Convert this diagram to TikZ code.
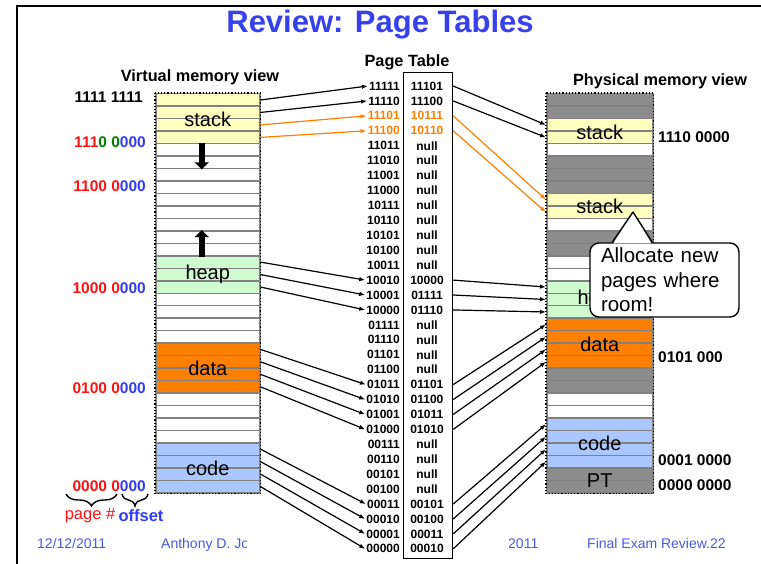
\documentclass[tikz,border=0pt]{standalone}
\usepackage{fontspec}
\setmainfont{Liberation Sans}
\usetikzlibrary{positioning, arrows.meta, decorations.pathreplacing}
\definecolor{ttlblue}{RGB}{55,65,235}
\definecolor{ftblue}{RGB}{70,90,230}
\definecolor{adred}{RGB}{250,20,20}
\definecolor{adgreen}{RGB}{0,130,0}
\definecolor{adblue}{RGB}{50,60,245}
\definecolor{ptorange}{RGB}{255,128,0}
\definecolor{stk}{RGB}{255,255,192}
\definecolor{hp}{RGB}{208,250,208}
\definecolor{dat}{RGB}{255,128,0}
\definecolor{cod}{RGB}{170,200,255}
\definecolor{used}{RGB}{140,140,140}
\definecolor{free}{RGB}{255,255,255}
\tikzset{
  memrow/.style={draw=gray, line width=1.5pt, inner sep=0pt, minimum height=12.47pt,
                 anchor=north west},
  memcol/.style={draw, dotted, line width=1.2pt},
  seg/.style={font=\fontsize{20}{24}\selectfont},
  hdr/.style={font=\fontsize{16.3}{19}\selectfont\bfseries, anchor=base},
  addr/.style={font=\fontsize{15.5}{18}\selectfont\bfseries, inner sep=1pt},
  pte/.style={font=\fontsize{12}{14}\selectfont\bfseries, inner sep=1pt},
  map/.style={-{Latex[length=6pt, width=4.5pt]}, line width=1.2pt},
  growarrow/.style={line width=6pt, -{Triangle[length=7pt, width=14pt]}},
  foot/.style={font=\fontsize{14}{16}\selectfont, text=ftblue, inner sep=0pt, anchor=base west}
}

\begin{document}
\begin{tikzpicture}[x=1pt, y=-1pt]
  \useasboundingbox (0,0) rectangle (761,564);
  \draw[line width=2pt] (17,564) -- (17,6) -- (761,6);

  \node[font=\fontsize{31}{36}\selectfont\bfseries, text=ttlblue, anchor=base] (title)
    at (380,32.5) {Review: Page Tables};
  \node[hdr] (vhdr) at (200,82) {Virtual memory view};
  \node[hdr] (pthdr) at (407,67) {Page Table};
  \node[hdr] (phdr) at (660,86) {Physical memory view};

  % virtual memory, row 0 = page 11111
  \foreach \c [count=\i from 0] in {stk,stk,stk,stk,free,free,free,free,free,free,free,free,
      free,hp,hp,hp,free,free,free,free,dat,dat,dat,dat,free,free,free,free,cod,cod,cod,cod}
    \node[memrow, minimum width=104pt, fill=\c] (v\i) at (155,93+12.47*\i) {};
  \draw[memcol] (v0.north west) rectangle (v31.south east);
  \draw[growarrow] ([xshift=-6pt]v4.north) -- ([xshift=-6pt]v5.south);
  \draw[growarrow] ([xshift=-6pt]v12.south) -- ([xshift=-6pt]v11.north);
  \node[seg] (vstack) at (v1.south) {stack};
  \node[seg] (vheap) at (v14) {heap};
  \node[seg] (vdata) at (v21.south) {data};
  \node[seg] (vcode) at (v29.south) {code};

  % physical memory
  \foreach \c [count=\i from 0] in {used,used,stk,stk,free,used,used,used,stk,stk,free,used,
      used,free,free,hp,hp,hp,dat,dat,dat,dat,used,used,free,free,cod,cod,cod,cod,used,used}
    \node[memrow, minimum width=106pt, fill=\c] (p\i) at (546,93+12.47*\i) {};
  \draw[memcol] (p0.north west) rectangle (p31.south east);
  \node[seg] (pstack1) at (p2.south) {stack};
  \node[seg] (pstack2) at (p8.south) {stack};
  \node[seg] (pheap) at (p16) {heap};
  \node[seg] (pdata) at (p19.south) {data};
  \node[seg] (pcode) at (p27.south) {code};
  \node[seg] (ppt) at (p30.south) {PT};

  % addresses
  \node[addr, anchor=east] (va0) at (144,97) {1111 1111};
  \node[addr, anchor=east] (va1) at (147,142)
    {\textcolor{adred}{111}\textcolor{adgreen}{0 0}\textcolor{adblue}{000}};
  \node[addr, anchor=east] (va2) at (147,186) {\textcolor{adred}{1100 0}\textcolor{adblue}{000}};
  \node[addr, anchor=east] (va3) at (147,288) {\textcolor{adred}{1000 0}\textcolor{adblue}{000}};
  \node[addr, anchor=east] (va4) at (147,388) {\textcolor{adred}{0100 0}\textcolor{adblue}{000}};
  \node[addr, anchor=east] (va5) at (147,486) {\textcolor{adred}{0000 0}\textcolor{adblue}{000}};
  \node[addr, anchor=west] (pa0) at (657,137) {1110 0000};
  \node[addr, anchor=west] (pa1) at (657,357) {0101 000};
  \node[addr, anchor=west] (pa2) at (657,460) {0001 0000};
  \node[addr, anchor=west] (pa3) at (657,485) {0000 0000};

  \draw[decorate, decoration={brace, mirror, amplitude=12pt}, line width=1.4pt]
    (66,494) -- (117,494);
  \draw[decorate, decoration={brace, mirror, amplitude=12pt}, line width=1.4pt]
    (122,494) -- (148,494);
  \node[font=\fontsize{16.5}{19}\selectfont, text=adred] (pgnum) at (90,516) {page \#};
  \node[font=\fontsize{16.5}{19}\selectfont\bfseries, text=adblue] (offs) at (141,516) {offset};

  \node[foot] (date) at (37,548) {12/12/2011};
  \node[foot] (auth) at (161,548) {Anthony D. Jo};
  \node[foot] (year) at (508,548) {2011};
  \node[foot] (slide) at (587,548) {Final Exam Review.22};
  \fill[white] (247,528) rectangle (508.5,556);

  % page table
  \node[draw, line width=1.2pt, inner sep=0pt, minimum width=49pt, minimum height=486pt,
        anchor=north west] (pt) at (403,72) {};
  \foreach \v/\p/\c [count=\i from 0] in {11111/11101/black, 11110/11100/black,
      11101/10111/ptorange, 11100/10110/ptorange, 11011/null/black, 11010/null/black,
      11001/null/black, 11000/null/black, 10111/null/black, 10110/null/black,
      10101/null/black, 10100/null/black, 10011/null/black, 10010/10000/black,
      10001/01111/black, 10000/01110/black, 01111/null/black, 01110/null/black,
      01101/null/black, 01100/null/black, 01011/01101/black, 01010/01100/black,
      01001/01011/black, 01000/01010/black, 00111/null/black, 00110/null/black,
      00101/null/black, 00100/null/black, 00011/00101/black, 00010/00100/black,
      00001/00011/black, 00000/00010/black} {
    \node[pte, text=\c, anchor=east] (vpn\i) at (401,86+14.93*\i) {\v};
    \node[pte, text=\c] (ppn\i) at (427,86+14.93*\i) {\p};
  }

  \foreach \i in {0,1,13,14,15,20,21,22,23,28,29,30,31}
    \draw[map] (v\i.east) -- (vpn\i.west);
  \foreach \i in {2,3}
    \draw[map, ptorange] (v\i.east) -- (vpn\i.west);
  \foreach \i/\j in {0/2,1/3,13/15,14/16,15/17,20/18,21/19,22/20,23/21,28/26,29/27,30/28,31/29}
    \draw[map] (pt.east |- ppn\i) -- (p\j.west);
  \foreach \i/\j in {2/8,3/9}
    \draw[map, ptorange] (pt.east |- ppn\i) -- (p\j.west);

  % callout
  \node[draw, fill=white, rounded corners=9pt, line width=1.4pt, inner sep=0pt,
        minimum width=149pt, minimum height=74pt, text width=127pt, align=left,
        font=\fontsize{20.5}{24.5}\selectfont] (note) at (664.5,280)
    {Allocate new\\pages where\\room!};
  \coordinate (calltip) at (633,212);
  \fill[white] ([xshift=24pt, yshift=-1.2pt]note.north west) -- (calltip)
    -- ([xshift=62pt, yshift=-1.2pt]note.north west) -- cycle;
  \draw[line width=1.4pt, line join=round] ([xshift=23pt]note.north west) -- (calltip)
    -- ([xshift=63pt]note.north west);
\end{tikzpicture}
\end{document}
